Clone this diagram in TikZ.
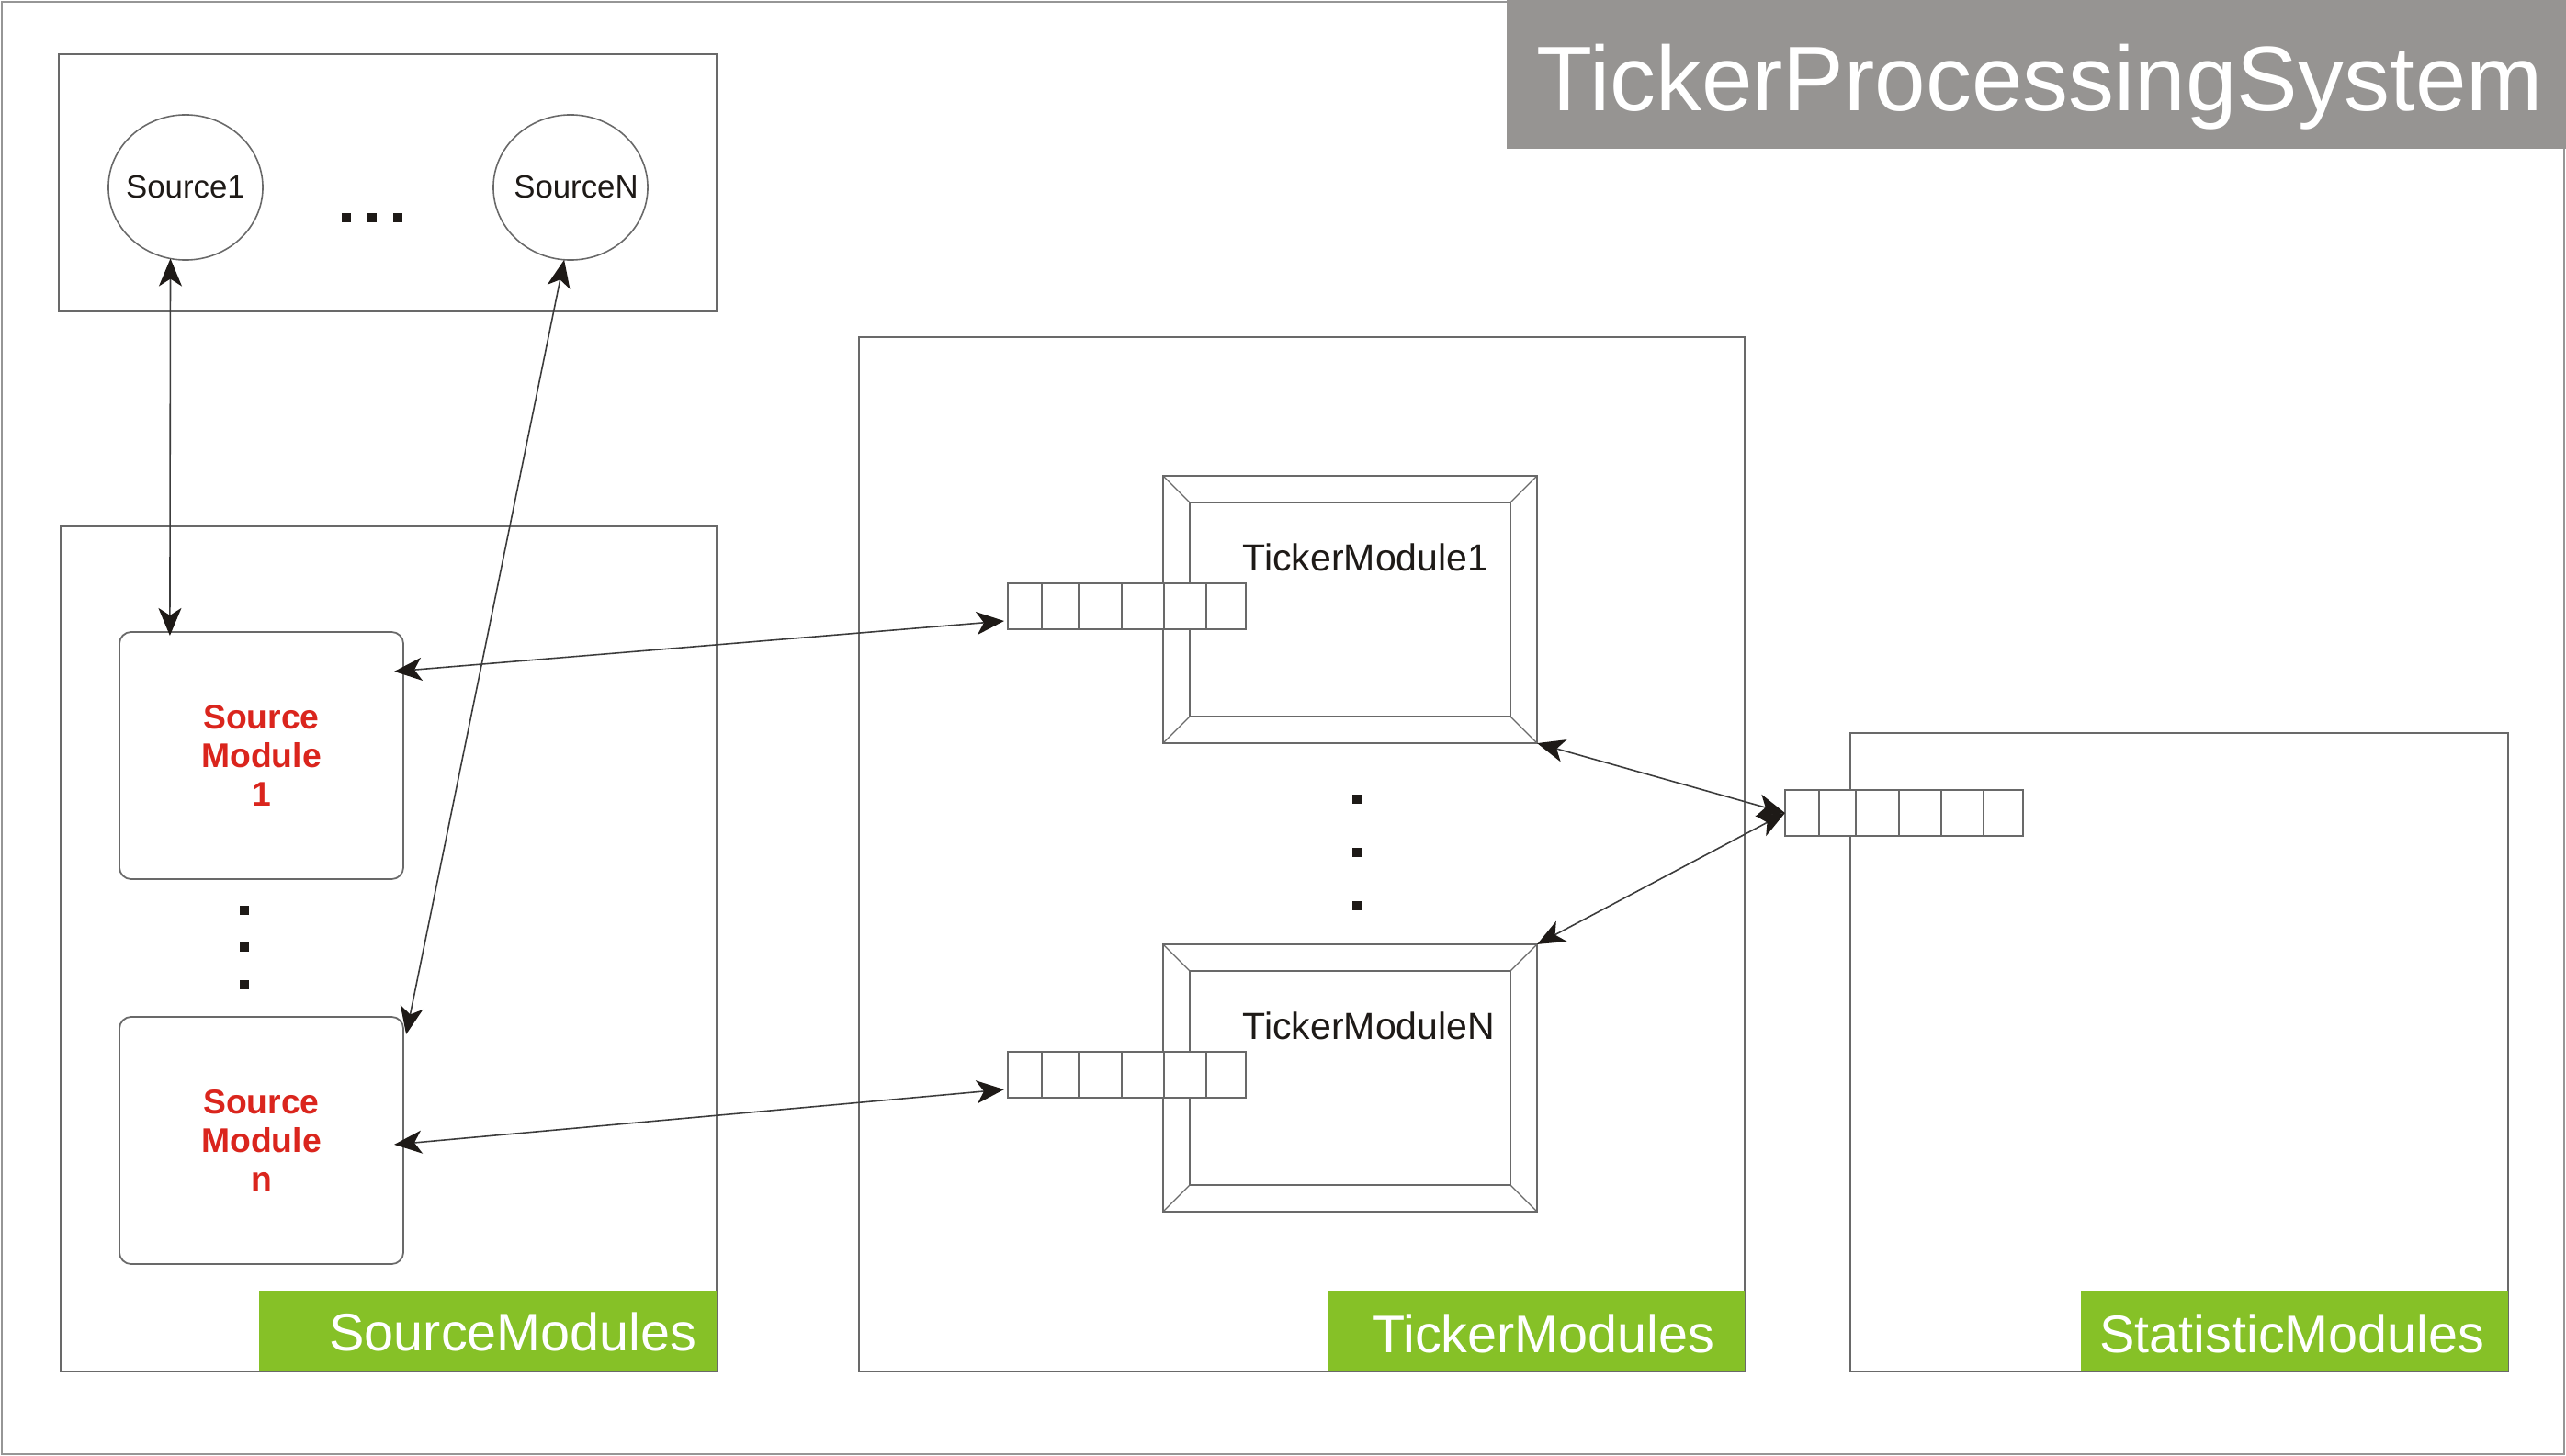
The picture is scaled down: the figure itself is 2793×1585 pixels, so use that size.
\documentclass[tikz,border=0pt]{standalone}
\usepackage{fontspec}
\setmainfont{Liberation Sans}
\usetikzlibrary{arrows.meta,calc,shapes.geometric}
\definecolor{framegray}{RGB}{150,150,150}
\definecolor{boxgray}{RGB}{105,105,105}
\definecolor{titlegray}{RGB}{150,148,146}
\definecolor{lblgreen}{RGB}{134,193,39}
\definecolor{modred}{RGB}{218,37,29}
\definecolor{inkblack}{RGB}{30,26,23}
\definecolor{arrowgray}{RGB}{60,60,60}
\begin{document}
\begin{tikzpicture}[x=0.01cm,y=-0.01cm,
  plainbox/.style={draw=boxgray,line width=0.6pt,inner sep=0pt,outer sep=0pt},
  greenlbl/.style={fill=lblgreen,inner sep=0pt,outer sep=0pt,minimum height=0.88cm},
  lbltext/.style={text=white,font=\fontsize{16.36}{19}\selectfont,inner sep=0pt,anchor=base east},
  srcmod/.style={draw=boxgray,line width=0.5pt,rounded corners=0.13cm,minimum width=3.09cm,minimum height=2.69cm,inner sep=0pt,outer sep=0pt,
    align=center,text=modred,font=\fontsize{10.6}{11.95}\bfseries\selectfont},
  srcell/.style={ellipse,draw=boxgray,line width=0.45pt,minimum width=1.68cm,minimum height=1.58cm,inner sep=0pt,outer sep=0pt},
  srctext/.style={text=inkblack,font=\fontsize{9.9}{11}\selectfont,inner sep=0pt},
  tframe/.style={draw=boxgray,line width=0.6pt,minimum width=4.07cm,minimum height=2.91cm,inner sep=0pt,outer sep=0pt},
  bevel/.style={draw=boxgray,line width=0.35pt},
  tmtext/.style={text=inkblack,font=\fontsize{11.67}{14}\selectfont,inner sep=0pt,anchor=base west},
  queue/.style={draw=boxgray,fill=white,line width=0.5pt,minimum width=2.59cm,minimum height=0.5cm,inner sep=0pt,outer sep=0pt},
  qline/.style={draw=boxgray,line width=0.5pt},
  link/.style={draw=arrowgray,line width=0.45pt,
    {Stealth[length=0.30cm,width=0.25cm,inset=0.08cm,color=inkblack]}-{Stealth[length=0.30cm,width=0.25cm,inset=0.08cm,color=inkblack]}},
  dotsq/.style={fill=inkblack}
]
\useasboundingbox (0,0) rectangle (2793,1585);
\fill[white] (0,0) rectangle (2793,1585);
\draw[framegray,line width=0.8pt] (2,2) rectangle (2791,1583);

% title
\node[fill=titlegray,inner sep=0pt,outer sep=0pt,minimum width=11.53cm,minimum height=1.62cm] (title) at (2216.5,81) {};
\node[text=white,font=\fontsize{28.4}{32}\selectfont,inner sep=0pt,anchor=base west] (titletext) at (1672,121) {TickerProcessingSystem};

% sources
\node[plainbox,minimum width=7.16cm,minimum height=2.80cm] (sources) at (422,199) {};
\node[srcell] (s1) at (202,204) {};
\node[srcell] (sN) at (621,204) {};
\node[srctext] (s1text) at (s1) {Source1};
\node[srctext] (sNtext) at ($(sN)+(6,0)$) {SourceN};
\fill[dotsq] (372,232) rectangle (382,242);
\fill[dotsq] (400,232) rectangle (410,242);
\fill[dotsq] (428,232) rectangle (438,242);

% source modules
\node[plainbox,minimum width=7.14cm,minimum height=9.20cm] (smods) at (423,1033) {};
\node[greenlbl,minimum width=4.98cm] (smlbl) at (531,1449) {};
\node[lbltext] (smlbltext) at (759,1470) {SourceModules};
\node[srcmod] (sm1) at (284.5,822.5) {Source\\Module\\1};
\node[srcmod] (smn) at (284.5,1241.5) {Source\\Module\\n};
\fill[dotsq] (261,986) rectangle (271,996);
\fill[dotsq] (261,1026) rectangle (271,1036);
\fill[dotsq] (261,1067) rectangle (271,1077);

% ticker modules
\node[plainbox,minimum width=9.64cm,minimum height=11.26cm] (tmods) at (1417,930) {};
\node[greenlbl,minimum width=4.54cm] (tmlbl) at (1672,1449) {};
\node[lbltext] (tmlbltext) at (1867,1472) {TickerModules};

\node[tframe] (tm1) at (1469.5,663.5) {};
\node[tframe] (tmN) at (1469.5,1173.5) {};
\foreach \t in {tm1,tmN}{
  \draw[bevel] ($(\t.north west)+(29,29)$) rectangle ($(\t.south east)+(-29,-29)$);
  \draw[bevel] (\t.north west) -- ++(29,29);
  \draw[bevel] (\t.north east) -- ++(-29,29);
  \draw[bevel] (\t.south west) -- ++(29,-29);
  \draw[bevel] (\t.south east) -- ++(-29,-29);
}
\node[tmtext] (tm1text) at (1352,621) {TickerModule1};
\node[tmtext] (tmNtext) at (1352,1131) {TickerModuleN};
\fill[dotsq] (1472,865) rectangle (1482,875);
\fill[dotsq] (1472,923) rectangle (1482,933);
\fill[dotsq] (1472,981) rectangle (1482,991);

\node[queue] (q1) at (1226.5,660) {};
\node[queue] (qN) at (1226.5,1170) {};

% statistic modules
\node[plainbox,minimum width=7.16cm,minimum height=6.95cm] (stmods) at (2372,1145.5) {};
\node[greenlbl,minimum width=4.65cm] (stlbl) at (2497.5,1449) {};
\node[lbltext] (stlbltext) at (2705,1472) {StatisticModules};
\node[queue] (sq) at (2072.5,885) {};

\foreach \q in {q1,qN,sq}{
  \foreach \d in {37,77,124,170,216}{
    \draw[qline] ($(\q.north west)+(\d,0)$) -- ($(\q.south west)+(\d,0)$);
  }
}

% connectors
\draw[link] (s1.258) -- ($(sm1.north west)+(55,4)$);
\draw[link] (sN.265) -- ($(smn.north east)+(3,19)$);
\draw[link] ($(sm1.north east)+(-10,43)$) -- ($(q1.south west)+(-4,-9)$);
\draw[link] ($(smn.north east)+(-10,139)$) -- ($(qN.south west)+(-4,-9)$);
\draw[link] (tm1.south east) -- (sq.west);
\draw[link] (tmN.north east) -- (sq.west);
\end{tikzpicture}
\end{document}
